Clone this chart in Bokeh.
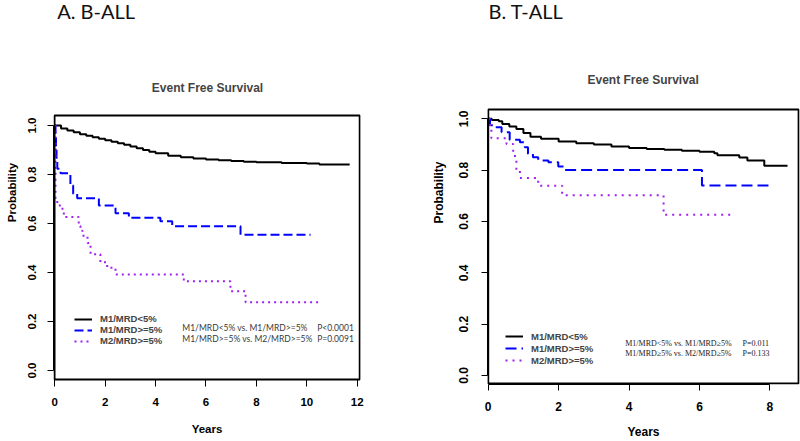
from bokeh.plotting import figure
from bokeh.layouts import row
from bokeh.models import Range1d, FixedTicker, Legend, LegendItem, Label, PrintfTickFormatter, BoxAnnotation
from bokeh.embed import file_html
from bokeh.resources import INLINE

# ---------------- data ----------------
panel_a_heading = "A. B-ALL"
panel_b_heading = "B. T-ALL"
plot_title = "Event Free Survival"
series_names = ["M1/MRD<5%", "M1/MRD>=5%", "M2/MRD>=5%"]

# B-ALL
b_m1lo_t = [0, 0.25, 0.5, 0.75, 1, 1.25, 1.5, 1.75, 2, 2.25, 2.5, 2.75, 3, 3.25, 3.5, 3.75, 4, 4.5, 5,
            5.5, 6, 6.5, 7, 7.5, 8, 9, 10, 10.5, 11.7]
b_m1lo_s = [1.0, 0.988, 0.980, 0.972, 0.964, 0.958, 0.952, 0.946, 0.940, 0.934, 0.928, 0.921, 0.914,
            0.907, 0.900, 0.893, 0.887, 0.877, 0.870, 0.865, 0.861, 0.858, 0.855, 0.852, 0.850, 0.847,
            0.845, 0.841, 0.841]
b_m1hi_t = [0, 0.03, 0.05, 0.07, 0.1, 0.23, 0.62, 0.73, 0.89, 1.75, 2.41, 2.94, 4.19, 4.66, 7.37, 10.15]
b_m1hi_s = [1.0, 0.95, 0.90, 0.86, 0.823, 0.805, 0.755, 0.721, 0.703, 0.673, 0.642, 0.623, 0.609,
            0.589, 0.554, 0.554]
b_m2hi_t = [0, 0.03, 0.1, 0.2, 0.36, 0.95, 1.02, 1.1, 1.3, 1.42, 1.81, 2.08, 2.41, 5.12, 6.97, 7.57, 10.48]
b_m2hi_s = [1.0, 0.70, 0.68, 0.66, 0.627, 0.59, 0.57, 0.55, 0.52, 0.475, 0.442, 0.419, 0.392, 0.364,
            0.324, 0.279, 0.279]
b_stats = ["M1/MRD<5% vs. M1/MRD>=5%", "M1/MRD>=5% vs. M2/MRD>=5%"]
b_pvals = ["P<0.0001", "P=0.0091"]
b_xticks = [0, 2, 4, 6, 8, 10, 12]

# T-ALL
t_m1lo_t = [0, 0.1, 0.3, 0.4, 0.6, 0.8, 1.0, 1.2, 1.5, 2.0, 2.5, 3.0, 3.5, 4.0, 4.5, 5.0, 5.5, 6.0,
            6.42, 6.51, 7.13, 7.36, 7.84, 8.5]
t_m1lo_s = [1.0, 0.995, 0.99, 0.98, 0.97, 0.96, 0.945, 0.93, 0.922, 0.912, 0.905, 0.90, 0.892, 0.886,
            0.882, 0.879, 0.876, 0.872, 0.866, 0.858, 0.849, 0.838, 0.817, 0.817]
t_m1hi_t = [0, 0.05, 0.14, 0.38, 0.61, 0.90, 1.04, 1.13, 1.27, 1.42, 1.71, 1.99, 2.17, 6.07, 8.10]
t_m1hi_s = [1.0, 0.975, 0.967, 0.948, 0.918, 0.909, 0.889, 0.864, 0.85, 0.838, 0.831, 0.814, 0.801,
            0.740, 0.740]
t_m2hi_t = [0, 0.05, 0.09, 0.52, 0.71, 0.76, 0.80, 0.90, 1.42, 2.10, 4.98, 6.99]
t_m2hi_s = [1.0, 0.96, 0.924, 0.902, 0.87, 0.84, 0.80, 0.769, 0.739, 0.702, 0.626, 0.626]
t_stats = ["M1/MRD<5% vs. M1/MRD\u22655%", "M1/MRD\u22655% vs. M2/MRD\u22655%"]
t_pvals = ["P=0.011", "P=0.133"]
t_xticks = [0, 2, 4, 6, 8]

y_ticks = [0, 0.2, 0.4, 0.6, 0.8, 1.0]

SANS = "Liberation Sans"
BLUE = "#0000FF"
PURPLE = "#A020F0"


def style(p, xticks, xmax, fs, box):
    p.outline_line_color = None
    p.xgrid.visible = False
    p.ygrid.visible = False
    p.background_fill_color = "white"
    p.border_fill_color = "white"
    l, r, b, t = box
    p.add_layout(BoxAnnotation(left=l, right=r, bottom=b, top=t, fill_color=None, fill_alpha=0,
                               line_color="black", line_width=2, line_alpha=1))
    xa, ya = p.xaxis[0], p.yaxis[0]
    xa.ticker = FixedTicker(ticks=xticks)
    ya.ticker = FixedTicker(ticks=y_ticks)
    ya.formatter = PrintfTickFormatter(format="%.1f")
    xa.bounds = (0, xmax)
    ya.bounds = (0, 1)
    xa.axis_label = "Years"
    ya.axis_label = "Probability"
    ya.major_label_orientation = "vertical"
    for ax in (xa, ya):
        ax.axis_line_color = "black"
        ax.axis_line_width = 1
        ax.major_tick_line_color = "black"
        ax.major_tick_line_width = 1
        ax.major_tick_in = 0
        ax.major_tick_out = 6
        ax.minor_tick_line_color = None
        ax.major_label_text_font = SANS
        ax.major_label_text_font_style = "bold"
        ax.major_label_text_font_size = fs
        ax.major_label_text_color = "black"
        ax.axis_label_text_font = SANS
        ax.axis_label_text_font_style = "bold"
        ax.axis_label_text_font_size = fs
        ax.axis_label_text_color = "black"


def add_curves(p, data, dashes, lw):
    rs = []
    for (t, s), color, dash in zip(data, ["black", BLUE, PURPLE], dashes):
        r = p.step(t, s, mode="after", line_color=color, line_width=lw, line_dash=dash)
        rs.append(r)
    return rs


def legend(rs, loc, row_h):
    return Legend(items=[LegendItem(label=n, renderers=[r]) for n, r in zip(series_names, rs)],
                  location=loc, padding=0, margin=0, spacing=0, label_height=row_h,
                  glyph_height=row_h, glyph_width=18, label_standoff=8, border_line_color=None,
                  background_fill_alpha=0, label_text_font=SANS, label_text_font_style="bold",
                  label_text_font_size="9.5px")


# ---------------- left panel ----------------
pa = figure(width=420, height=441, output_backend="svg", toolbar_location=None,
            x_range=Range1d(-0.05, 12.13), y_range=Range1d(-0.0571, 1.5102),
            min_border_left=53, min_border_right=60, min_border_top=0, min_border_bottom=57)
style(pa, b_xticks, 12, "11.5px", (-0.01, 12.1, -0.037, 1.041))
pa.xaxis[0].axis_line_color = None
pa.xaxis[0].major_tick_in = 5
pa.xaxis[0].major_tick_out = 2
pa.xaxis[0].major_label_standoff = 11
pa.xaxis[0].axis_label_standoff = 14
pa.yaxis[0].major_label_standoff = 11
pa.yaxis[0].axis_label_standoff = 8
ra = add_curves(pa, [(b_m1lo_t, b_m1lo_s), (b_m1hi_t, b_m1hi_s), (b_m2hi_t, b_m2hi_s)],
                ["solid", "9 4", "2 4"], 2)
pa.add_layout(legend(ra, (21, 38), 10))
for i, (st, pv) in enumerate(zip(b_stats, b_pvals)):
    yy = 0.173 - i * 0.044
    pa.add_layout(Label(x=5.06, y=yy, text=st, text_font="Lato", text_font_size="8.5px",
                        text_color="#3a3a3a", text_baseline="middle"))
    pa.add_layout(Label(x=10.41, y=yy, text=pv, text_font="Lato", text_font_size="8.5px",
                        text_color="#3a3a3a", text_baseline="middle"))
pa.add_layout(Label(x=6.06, y=1.153, text=plot_title, text_font=SANS, text_font_style="bold",
                    text_font_size="12px", text_align="center", text_baseline="middle"))
pa.add_layout(Label(x=0.095, y=1.468, text=panel_a_heading, text_font="Lato",
                    text_font_size="20px", text_baseline="middle", text_color="#111111"))

# ---------------- right panel ----------------
pb = figure(width=380, height=441, output_backend="svg", toolbar_location=None,
            x_range=Range1d(-0.02, 8.84), y_range=Range1d(-0.0351, 1.4609),
            min_border_left=67, min_border_right=1, min_border_top=0, min_border_bottom=57)
style(pb, t_xticks, 8, "12px", (0.0, 8.815, -0.031, 1.036))
pb.xaxis[0].major_label_standoff = 11
pb.xaxis[0].axis_label_standoff = 11
pb.yaxis[0].major_label_standoff = 13
pb.yaxis[0].axis_label_standoff = 11
rb = add_curves(pb, [(t_m1lo_t, t_m1lo_s), (t_m1hi_t, t_m1hi_s), (t_m2hi_t, t_m2hi_s)],
                ["solid", "11 5", "2 5"], 2)
pb.add_layout(legend(rb, (18, 18), 12))
for i, (st, pv) in enumerate(zip(t_stats, t_pvals)):
    yy = 0.123 - i * 0.037
    pb.add_layout(Label(x=3.89, y=yy, text=st, text_font="Liberation Serif", text_font_size="8px",
                        text_color="#222222", text_baseline="middle"))
    pb.add_layout(Label(x=7.22, y=yy, text=pv, text_font="Liberation Serif", text_font_size="8px",
                        text_color="#222222", text_baseline="middle"))
pb.add_layout(Label(x=4.40, y=1.151, text=plot_title, text_font=SANS, text_font_style="bold",
                    text_font_size="12px", text_align="center", text_baseline="middle"))
pb.add_layout(Label(x=0.01, y=1.4207, text=panel_b_heading, text_font="Lato",
                    text_font_size="20px", text_baseline="middle", text_color="#111111"))

layout = row(pa, pb)
open("out.html", "w").write(file_html(layout, INLINE))
